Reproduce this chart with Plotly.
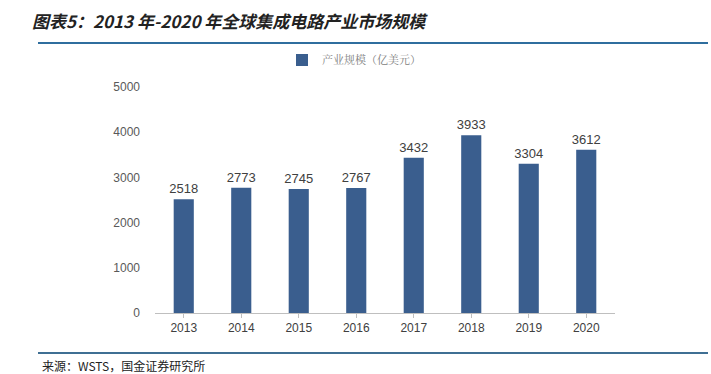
import plotly.graph_objects as go

years = ["2013", "2014", "2015", "2016", "2017", "2018", "2019", "2020"]
values = [2518, 2773, 2745, 2767, 3432, 3933, 3304, 3612]
y_ticks = [0, 1000, 2000, 3000, 4000, 5000]
series_name = "产业规模（亿美元）"
title_text = "图表5：2013 年-2020 年全球集成电路产业市场规模"
source_text = "来源：WSTS，国金证券研究所"

L, R, T, B = 155, 96, 87, 61
W, H = 711, 374
pw, ph = W - L - R, H - T - B

def px(x):
    return (x - L) / pw

def py(y):
    return (H - B - y) / ph

fig = go.Figure()
fig.add_trace(go.Bar(
    x=years, y=values, name=series_name,
    marker=dict(color="#3A5E8E", line=dict(width=0)),
    width=0.35,
    text=[str(v) for v in values], textposition="outside",
    constraintext="none",
    textfont=dict(family="Liberation Sans, Arial", size=13, color="#404040"),
    cliponaxis=False,
))

fig.update_layout(
    width=W, height=H,
    margin=dict(l=L, r=R, t=T, b=B),
    paper_bgcolor="white", plot_bgcolor="white",
    showlegend=True,
    legend=dict(x=px(282), y=py(60), xanchor="left", yanchor="middle",
                font=dict(family="Noto Serif CJK SC, Noto Sans CJK SC", size=11, color="#808080"),
                itemwidth=30, bgcolor="rgba(0,0,0,0)"),
    xaxis=dict(type="category", showline=True, linecolor="#BFBFBF", linewidth=1,
               ticks="outside", tickcolor="#BFBFBF", ticklen=4,
               tickfont=dict(family="Liberation Sans, Arial", size=12, color="#404040"),
               showgrid=False, range=[-0.5, 7.5]),
    yaxis=dict(range=[0, 5000], tickvals=y_ticks, showgrid=False, zeroline=False,
               showline=False, ticks="",
               tickfont=dict(family="Liberation Sans, Arial", size=12, color="#595959"),
               ticklabelstandoff=14),
    bargap=0.6,
)

fig.add_annotation(text="<b><i>" + title_text + "</i></b>", xref="paper", yref="paper",
                   x=px(30), y=py(20), xanchor="left", yanchor="middle", showarrow=False,
                   font=dict(family="Noto Sans CJK SC", size=17, color="#222222"))
fig.add_shape(type="line", xref="paper", yref="paper", x0=px(38), x1=px(708),
              y0=py(43), y1=py(43), line=dict(color="#2F6E9E", width=2))
fig.add_shape(type="line", xref="paper", yref="paper", x0=px(38), x1=px(708),
              y0=py(353), y1=py(353), line=dict(color="#3F6F93", width=2))
fig.add_annotation(text=source_text, xref="paper", yref="paper",
                   x=px(40), y=py(365), xanchor="left", yanchor="middle", showarrow=False,
                   font=dict(family="Noto Sans CJK SC", size=12, color="#222222"))

fig.write_html("out.html", config={"displayModeBar": False},
               post_script="document.body.style.margin='0';")
